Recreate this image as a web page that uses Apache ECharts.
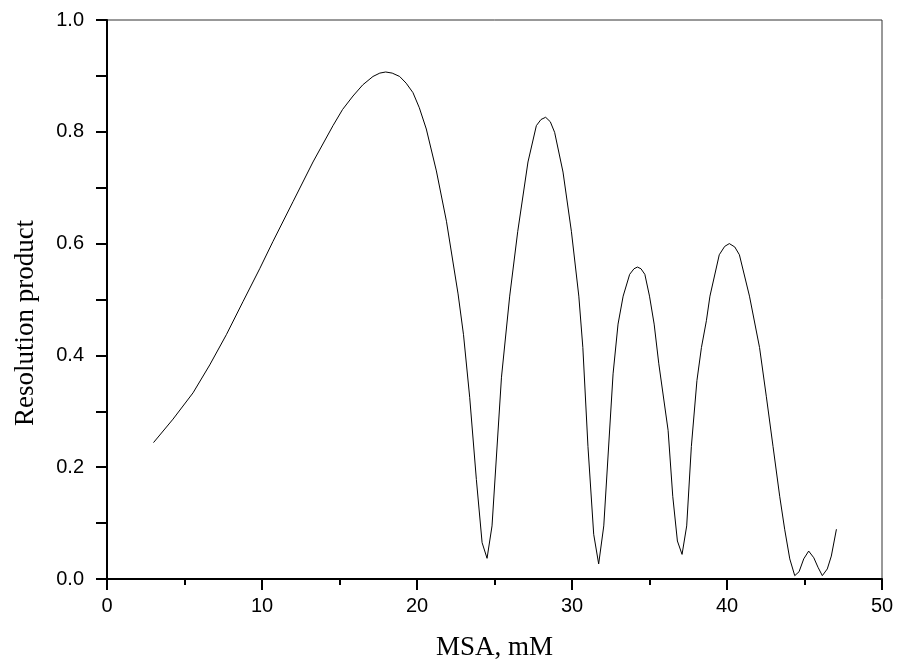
<!DOCTYPE html>
<html>
<head>
<meta charset="utf-8">
<script src="https://cdn.jsdelivr.net/npm/echarts@6/dist/echarts.min.js"></script>
<style>html,body{margin:0;padding:0;background:#fff;}#c{width:898px;height:666px;}</style>
</head>
<body>
<div id="c"></div>
<script>
var msa = [3.0, 4.26, 5.55, 6.63, 7.7, 8.77, 9.85, 10.71, 12.0, 13.29, 14.58, 15.2, 15.87, 16.5, 17.16, 17.6, 17.98, 18.4, 18.88, 19.3, 19.74, 20.15, 20.6, 21.25, 21.9, 22.65, 23.0, 23.4, 23.83, 24.2, 24.52, 24.84, 25.45, 25.98, 26.5, 27.16, 27.7, 28.0, 28.3, 28.6, 28.88, 29.42, 29.96, 30.44, 30.7, 31.03, 31.4, 31.72, 32.05, 32.65, 32.97, 33.3, 33.72, 34.0, 34.22, 34.45, 34.7, 35.0, 35.3, 35.6, 36.2, 36.5, 36.8, 37.1, 37.4, 37.7, 38.06, 38.35, 38.67, 38.9, 39.5, 39.85, 40.15, 40.5, 40.8, 41.45, 42.1, 42.54, 42.97, 43.4, 43.72, 44.05, 44.37, 44.65, 44.95, 45.27, 45.6, 45.87, 46.15, 46.47, 46.73, 47.06];
var resolution = [0.244, 0.286, 0.333, 0.383, 0.437, 0.496, 0.555, 0.604, 0.675, 0.746, 0.811, 0.840, 0.864, 0.884, 0.899, 0.905, 0.907, 0.905, 0.899, 0.887, 0.870, 0.843, 0.805, 0.73, 0.64, 0.51, 0.437, 0.325, 0.178, 0.065, 0.037, 0.095, 0.361, 0.506, 0.622, 0.746, 0.811, 0.822, 0.826, 0.818, 0.799, 0.728, 0.622, 0.506, 0.414, 0.237, 0.08, 0.027, 0.095, 0.367, 0.456, 0.506, 0.545, 0.555, 0.558, 0.555, 0.545, 0.506, 0.456, 0.385, 0.266, 0.148, 0.068, 0.044, 0.095, 0.237, 0.355, 0.414, 0.462, 0.506, 0.58, 0.595, 0.6, 0.594, 0.58, 0.506, 0.414, 0.326, 0.237, 0.148, 0.089, 0.036, 0.006, 0.013, 0.036, 0.05, 0.038, 0.021, 0.006, 0.018, 0.041, 0.089];
var xTitle = 'MSA, mM';
var yTitle = 'Resolution product';

var pts = msa.map(function (x, i) { return [x, resolution[i]]; });
var chart = echarts.init(document.getElementById('c'));
chart.setOption({
  animation: false,
  backgroundColor: '#fff',
  grid: { left: 107, right: 16, top: 20, bottom: 83, show: true, borderColor: '#333', borderWidth: 1 },
  graphic: [{
    type: 'text', x: 26, y: 323, rotation: Math.PI / 2,
    style: { text: yTitle, font: '27px "Liberation Serif"', fill: '#000', align: 'center', verticalAlign: 'middle' }
  }],
  xAxis: {
    type: 'value', min: 0, max: 50, interval: 10,
    name: xTitle, nameLocation: 'middle', nameGap: 55,
    nameTextStyle: { fontFamily: 'Liberation Serif', fontSize: 27, color: '#000' },
    axisLine: { show: true, onZero: false, lineStyle: { color: '#000', width: 2 } },
    axisTick: { show: true, length: 11, inside: false, lineStyle: { color: '#000', width: 2 } },
    minorTick: { show: true, splitNumber: 2, length: 6, lineStyle: { color: '#000', width: 2 } },
    axisLabel: { fontFamily: 'Liberation Sans', fontSize: 20, color: '#000', margin: 17 },
    splitLine: { show: false }
  },
  yAxis: {
    type: 'value', min: 0, max: 1.0, interval: 0.2,
    axisLine: { show: true, onZero: false, lineStyle: { color: '#000', width: 2 } },
    axisTick: { show: true, length: 11, inside: false, lineStyle: { color: '#000', width: 2 } },
    minorTick: { show: true, splitNumber: 2, length: 11, lineStyle: { color: '#000', width: 2 } },
    axisLabel: { fontFamily: 'Liberation Sans', fontSize: 20, color: '#000', margin: 23,
      formatter: function (v) { return v.toFixed(1); } },
    splitLine: { show: false }
  },
  series: [{
    type: 'line', data: pts, showSymbol: false, smooth: false,
    lineStyle: { color: '#000', width: 1 }
  }]
});
</script>
</body>
</html>
